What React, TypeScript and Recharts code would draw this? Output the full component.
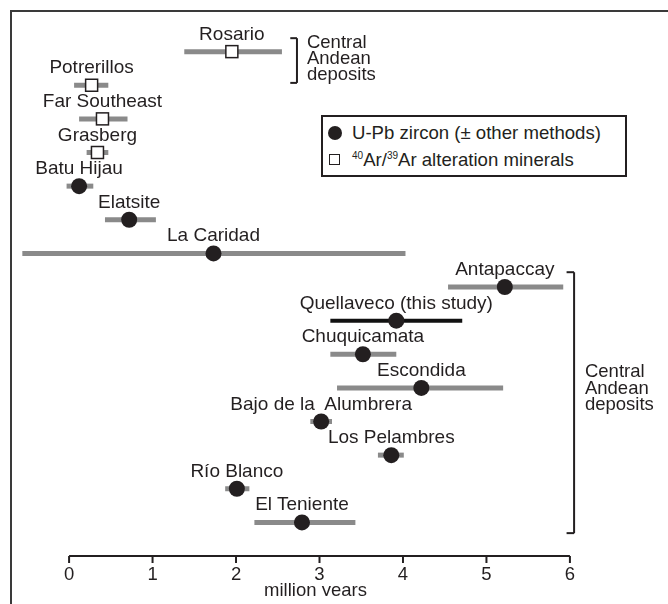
import { ScatterChart, Scatter, XAxis, YAxis, ErrorBar, ReferenceLine, ReferenceDot } from 'recharts'

const FONT = '"Liberation Sans", Arial, Helvetica, sans-serif'
const INK = '#231f20'
const BAR_GREY = '#8a8a8a'

// deposits, top to bottom
const deposits = [
  'Rosario',
  'Potrerillos',
  'Far Southeast',
  'Grasberg',
  'Batu Hijau',
  'Elatsite',
  'La Caridad',
  'Antapaccay',
  'Quellaveco (this study)',
  'Chuquicamata',
  'Escondida',
  'Bajo de la  Alumbrera',
  'Los Pelambres',
  'Río Blanco',
  'El Teniente',
]
// duration of hydrothermal activity, million years
const durations = [1.95, 0.27, 0.4, 0.34, 0.12, 0.72, 1.73, 5.22, 3.92, 3.52, 4.22, 3.02, 3.86, 2.01, 2.79]
const errLow = [0.57, 0.21, 0.28, 0.13, 0.15, 0.29, 2.29, 0.68, 0.79, 0.39, 1.01, 0.13, 0.16, 0.14, 0.57]
const errHigh = [0.6, 0.2, 0.3, 0.13, 0.17, 0.32, 2.3, 0.7, 0.79, 0.4, 0.98, 0.13, 0.15, 0.15, 0.64]
const methods = ['ArAr', 'ArAr', 'ArAr', 'ArAr', 'UPb', 'UPb', 'UPb', 'UPb', 'UPb', 'UPb', 'UPb', 'UPb', 'UPb', 'UPb', 'UPb']
const THIS_STUDY = 'Quellaveco (this study)'

const xTicks = [0, 1, 2, 3, 4, 5, 6]

const rows = deposits.map((name, i) => ({
  name,
  age: durations[i],
  err: [errLow[i], errHigh[i]],
  row: i,
  method: methods[i],
}))

const arData = rows.filter((r) => r.method === 'ArAr')
const upbData = rows.filter((r) => r.method === 'UPb' && r.name !== THIS_STUDY)
const studyData = rows.filter((r) => r.name === THIS_STUDY)

function NameLabel({ x, y, text }: { x: number; y: number; text: string }) {
  return (
    <text x={x} y={y - 12} textAnchor="middle" fontSize={19} fill={INK} fontFamily={FONT} style={{ whiteSpace: 'pre' }}>
      {text}
    </text>
  )
}

function CircleShape(p: any) {
  return (
    <g>
      <circle cx={p.cx} cy={p.cy} r={8} fill={INK} />
      <NameLabel x={p.cx} y={p.cy} text={p.payload.name} />
    </g>
  )
}

function SquareShape(p: any) {
  return (
    <g>
      <rect x={p.cx - 6} y={p.cy - 6} width={12} height={12} fill="#fff" stroke={INK} strokeWidth={1.5} />
      <NameLabel x={p.cx} y={p.cy} text={p.payload.name} />
    </g>
  )
}

function GroupText({ lines, gap, size }: { lines: string[]; gap: number; size: number }) {
  return (p: any) => (
    <text x={p.cx} y={p.cy} fontSize={size} fill={INK} fontFamily={FONT}>
      {lines.map((l, i) => (
        <tspan key={i} x={p.cx} y={p.cy + (i - 1) * gap}>
          {l}
        </tspan>
      ))}
    </text>
  )
}

const groupLines = ['Central', 'Andean', 'deposits']

function Legend() {
  return (
    <div
      style={{
        position: 'absolute',
        left: 313,
        top: 107,
        width: 302,
        height: 56,
        border: `2px solid ${INK}`,
        background: '#fff',
        paddingTop: 2,
        fontFamily: FONT,
        fontSize: 18.6,
        color: INK,
        whiteSpace: 'nowrap',
      }}
    >
      <div style={{ display: 'flex', alignItems: 'center', height: 27 }}>
        <span style={{ width: 29, flex: 'none' }}>
          <span style={{ width: 14, height: 14, borderRadius: 7, background: INK, display: 'block', marginLeft: 5 }} />
        </span>
        <span>U-Pb zircon (± other methods)</span>
      </div>
      <div style={{ display: 'flex', alignItems: 'center', height: 27 }}>
        <span style={{ width: 29, flex: 'none' }}>
          <span style={{ width: 9, height: 9, border: `1.5px solid ${INK}`, display: 'block', marginLeft: 6 }} />
        </span>
        <span>
          <sup style={{ fontSize: 10, lineHeight: 0 }}>40</sup>Ar/<sup style={{ fontSize: 10, lineHeight: 0 }}>39</sup>Ar alteration minerals
        </span>
      </div>
    </div>
  )
}

export default function App() {
  return (
    <div style={{ position: 'relative', width: 652, height: 596, marginBottom: -8, fontFamily: FONT }}>
      <div
        style={{
          position: 'fixed',
          left: 10,
          top: 10,
          right: -20,
          bottom: -20,
          borderLeft: '2px solid #3a3a3a',
          borderTop: '2px solid #3a3a3a',
          pointerEvents: 'none',
        }}
      />
      <ScatterChart width={652} height={596} margin={{ top: 10, right: 40, bottom: 8, left: 11 }}>
        <XAxis
          type="number"
          dataKey="age"
          domain={[-0.6, 6.6]}
          allowDataOverflow
          ticks={xTicks}
          interval={0}
          axisLine={false}
          tickLine={{ stroke: INK, strokeWidth: 2 }}
          tickSize={7}
          tickMargin={4}
          height={40}
          tick={{ fontSize: 18.5, fill: INK, fontFamily: FONT }}
          label={{ value: 'million years', position: 'insideBottom', offset: 0, fontSize: 18.5, fill: INK, fontFamily: FONT, dx: -4 }}
        />
        <YAxis type="number" dataKey="row" domain={[-1, 15]} reversed hide allowDataOverflow />
        <ReferenceLine segment={[{ x: 0, y: 15 }, { x: 6, y: 15 }]} stroke={INK} strokeWidth={2} />

        {/* upper bracket */}
        <ReferenceLine segment={[{ x: 2.73, y: -0.4 }, { x: 2.73, y: 0.93 }]} stroke={INK} strokeWidth={2} />
        <ReferenceLine segment={[{ x: 2.65, y: -0.4 }, { x: 2.73, y: -0.4 }]} stroke={INK} strokeWidth={2} />
        <ReferenceLine segment={[{ x: 2.65, y: 0.93 }, { x: 2.73, y: 0.93 }]} stroke={INK} strokeWidth={2} />
        <ReferenceDot x={2.85} y={0.37} r={0} shape={GroupText({ lines: groupLines, gap: 16, size: 18.5 })} />

        {/* lower bracket */}
        <ReferenceLine segment={[{ x: 6.05, y: 6.56 }, { x: 6.05, y: 14.32 }]} stroke={INK} strokeWidth={2} />
        <ReferenceLine segment={[{ x: 5.96, y: 6.56 }, { x: 6.05, y: 6.56 }]} stroke={INK} strokeWidth={2} />
        <ReferenceLine segment={[{ x: 5.96, y: 14.32 }, { x: 6.05, y: 14.32 }]} stroke={INK} strokeWidth={2} />
        <ReferenceDot x={6.18} y={10.18} r={0} shape={GroupText({ lines: groupLines, gap: 16.5, size: 18.5 })} />

        <Scatter data={arData} shape={SquareShape} isAnimationActive={false}>
          <ErrorBar dataKey="err" direction="x" width={0} stroke={BAR_GREY} strokeWidth={5} isAnimationActive={false} />
        </Scatter>
        <Scatter data={upbData} shape={CircleShape} isAnimationActive={false}>
          <ErrorBar dataKey="err" direction="x" width={0} stroke={BAR_GREY} strokeWidth={5} isAnimationActive={false} />
        </Scatter>
        <Scatter data={studyData} shape={CircleShape} isAnimationActive={false}>
          <ErrorBar dataKey="err" direction="x" width={0} stroke="#111" strokeWidth={4} isAnimationActive={false} />
        </Scatter>
      </ScatterChart>
      <Legend />
    </div>
  )
}
